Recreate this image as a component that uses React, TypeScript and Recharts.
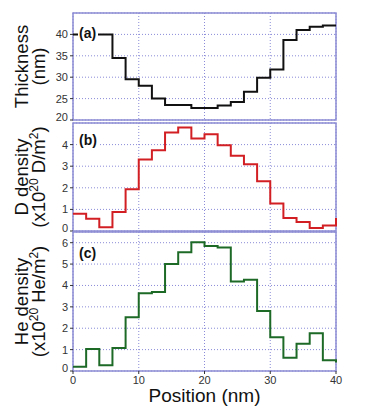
import { LineChart, Line, XAxis, YAxis, CartesianGrid, ReferenceArea } from 'recharts';

const positions = [0, 2, 4, 6, 8, 10, 12, 14, 16, 18, 20, 22, 24, 26, 28, 30, 32, 34, 36, 38, 40];
const thickness = [40, 40, 40, 34.5, 29.5, 28, 25, 23.5, 23.5, 22.8, 22.8, 23.4, 24.2, 26.6, 29.9, 31.8, 38.7, 41, 41.8, 42.1, 42.1];
const dDensity = [0.8, 0.57, 0.17, 0.88, 1.93, 3.31, 3.74, 4.56, 4.79, 4.28, 4.48, 3.97, 3.48, 3.09, 2.3, 1.27, 0.6, 0.42, 0.14, 0.26, 0.6];
const heDensity = [0.2, 1.03, 0.27, 1.08, 2.51, 3.64, 3.69, 5.0, 5.55, 6.02, 5.85, 5.77, 4.19, 4.27, 2.81, 1.58, 0.62, 1.27, 1.77, 0.5, 0.4];

const xTicks = [0, 10, 20, 30, 40];
const thicknessTicks = [20, 25, 30, 35, 40];
const dTicks = [0, 1, 2, 3, 4];
const heTicks = [0, 1, 2, 3, 4, 5, 6];

const data = positions.map((x, i) => ({ x, t: thickness[i], d: dDensity[i], he: heDensity[i] }));

const FONT = '"Liberation Sans", Arial, sans-serif';
const FRAME = '#8c8cd4';
const GRID = '#8a8ad8';
const MARGIN_LEFT = 33;
const MARGIN_RIGHT = 40;

type TitleProps = { viewBox?: any; line1: string; line2: React.ReactNode };

const YTitle = ({ viewBox, line1, line2 }: TitleProps) => {
  if (!viewBox) return null;
  const cy = viewBox.y + viewBox.height / 2;
  return (
    <g fontFamily={FONT} fill="#111">
      <text x={28} y={cy} fontSize={18.5} textAnchor="middle" transform={`rotate(-90, 28, ${cy})`}>
        {line1}
      </text>
      <text x={45} y={cy} fontSize={18.5} textAnchor="middle" transform={`rotate(-90, 45, ${cy})`}>
        {line2}
      </text>
    </g>
  );
};

const sup = (s: string) => (
  <tspan fontSize={12} dy={-7}>{s}</tspan>
);
const back = (s: string) => <tspan dy={7}>{s}</tspan>;

// bottom tick label sits a little above the frame, like the original
const YTick = ({ x, y, payload, index }: any) => (
  <text x={x} y={y + (index === 0 ? -3 : 0)} dy={4} textAnchor="end" fontSize={11} fill="#333" fontFamily={FONT}>
    {payload.value}
  </text>
);

const tickStyle = { fontSize: 11, fill: '#333', fontFamily: FONT };

const PanelLabel = ({ text, top }: { text: string; top: number }) => (
  <div
    style={{
      position: 'absolute',
      left: 78,
      top,
      background: '#fff',
      fontFamily: FONT,
      fontWeight: 'bold',
      fontSize: 14,
      lineHeight: '14px',
      padding: '0 2px 0 1px',
      color: '#111',
    }}
  >
    {text}
  </div>
);

const App = () => {
  return (
    <div style={{ position: 'absolute', left: 0, top: 0, width: 376, height: 415, background: '#fff' }}>
      <div style={{ position: 'absolute', left: 0, top: 0 }}>
        <LineChart width={376} height={130} data={data} margin={{ top: 13, right: MARGIN_RIGHT, bottom: 10, left: MARGIN_LEFT }}>
          <CartesianGrid stroke={GRID} strokeDasharray="1 2" />
          <XAxis dataKey="x" type="number" domain={[0, 40]} ticks={xTicks} hide />
          <YAxis
            width={40}
            domain={[20, 45]}
            ticks={thicknessTicks}
            interval={0}
            tick={<YTick />}
            tickSize={3}
            tickLine={{ stroke: '#333' }}
            axisLine={false}
            label={{ content: (p: any) => <YTitle viewBox={p.viewBox} line1="Thickness" line2="(nm)" /> }}
          />
          <ReferenceArea x1={0} x2={40} y1={20} y2={45} fill="none" stroke={FRAME} strokeWidth={1.5} />
          <Line type="stepAfter" dataKey="t" stroke="#111" strokeWidth={2} dot={false} isAnimationActive={false} />
        </LineChart>
      </div>
      <div style={{ position: 'absolute', left: 0, top: 110 }}>
        <LineChart width={376} height={130} data={data} margin={{ top: 13, right: MARGIN_RIGHT, bottom: 9, left: MARGIN_LEFT }}>
          <CartesianGrid stroke={GRID} strokeDasharray="1 2" />
          <XAxis dataKey="x" type="number" domain={[0, 40]} ticks={xTicks} hide />
          <YAxis
            width={40}
            domain={[0, 5]}
            ticks={dTicks}
            interval={0}
            tick={<YTick />}
            tickSize={3}
            tickLine={{ stroke: '#333' }}
            axisLine={false}
            label={{
              content: (p: any) => (
                <YTitle viewBox={p.viewBox} line1="D density" line2={<>(x10{sup('20')}{back(' D/m')}{sup('2')}{back(')')}</>} />
              ),
            }}
          />
          <ReferenceArea x1={0} x2={40} y1={0} y2={5} fill="none" stroke={FRAME} strokeWidth={1.5} />
          <Line type="stepAfter" dataKey="d" stroke="#d21f24" strokeWidth={2} dot={false} isAnimationActive={false} />
        </LineChart>
      </div>
      <div style={{ position: 'absolute', left: 0, top: 219 }}>
        <LineChart width={376} height={196} data={data} margin={{ top: 13, right: MARGIN_RIGHT, bottom: 0, left: MARGIN_LEFT }}>
          <CartesianGrid stroke={GRID} strokeDasharray="1 2" />
          <XAxis
            dataKey="x"
            type="number"
            domain={[0, 40]}
            ticks={xTicks}
            interval={0}
            height={44}
            tick={tickStyle}
            tickSize={3}
            tickLine={{ stroke: '#333' }}
            axisLine={false}
            label={{
              content: (p: any) =>
                p.viewBox ? (
                  <text x={p.viewBox.x + p.viewBox.width / 2} y={p.viewBox.y + 31} textAnchor="middle" fontSize={19} fontFamily={FONT} fill="#111">
                    Position (nm)
                  </text>
                ) : null,
            }}
          />
          <YAxis
            width={40}
            domain={[0, 6.5]}
            ticks={heTicks}
            interval={0}
            tick={<YTick />}
            tickSize={3}
            tickLine={{ stroke: '#333' }}
            axisLine={false}
            label={{
              content: (p: any) => (
                <YTitle viewBox={p.viewBox} line1="He density" line2={<>(x10{sup('20')}{back(' He/m')}{sup('2')}{back(')')}</>} />
              ),
            }}
          />
          <ReferenceArea x1={0} x2={40} y1={0} y2={6.5} fill="none" stroke={FRAME} strokeWidth={1.5} />
          <Line type="stepAfter" dataKey="he" stroke="#1d6a27" strokeWidth={2} dot={false} isAnimationActive={false} />
        </LineChart>
      </div>
      <PanelLabel text="(a)" top={26} />
      <PanelLabel text="(b)" top={133} />
      <PanelLabel text="(c)" top={246} />
    </div>
  );
};

export default App;
